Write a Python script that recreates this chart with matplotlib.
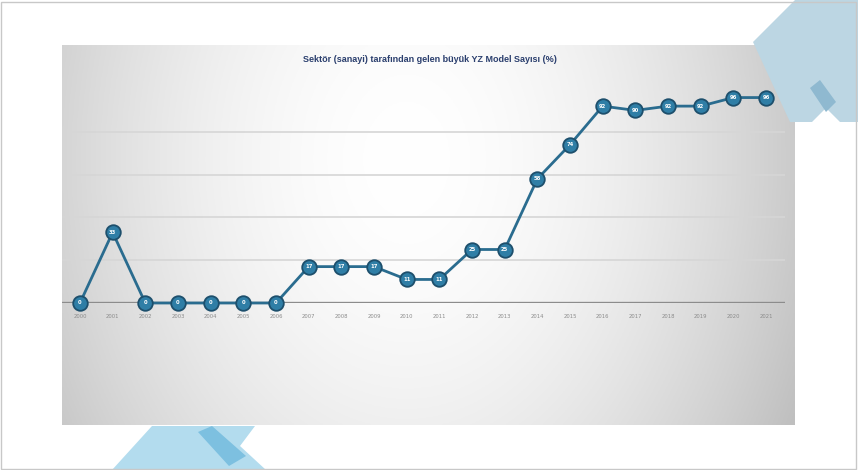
import numpy as np
import matplotlib
matplotlib.use("Agg")
import matplotlib.pyplot as plt
from matplotlib.patches import Polygon, Rectangle

# data (share of large AI models from industry, %)
years = list(range(2000, 2022))
share = [0, 33, 0, 0, 0, 0, 0, 17, 17, 17, 11, 11, 25, 25, 58, 74, 92, 90, 92, 92, 96, 96]
title = "Sektör (sanayi) tarafından gelen büyük YZ Model Sayısı (%)"
grid_levels = [20, 40, 60, 80]

W, H = 858, 470
fig = plt.figure(figsize=(W / 100, H / 100), dpi=100)
fig.patch.set_facecolor("white")


def px(x, y):
    # pixel (top-left origin) -> figure fraction
    return (x / W, 1 - y / H)


# decorative shapes behind the panel
top_right = [px(753, 42), px(795, 0), px(858, 0), px(858, 122), px(840, 122),
             px(826, 108), px(812, 122), px(790, 122)]
fig.patches.append(Polygon(top_right, closed=True, transform=fig.transFigure,
                           facecolor="#bcd6e3", edgecolor="none", zorder=0))
fig.patches.append(Polygon([px(810, 88), px(820, 80), px(836, 102), px(826, 112)],
                           closed=True, transform=fig.transFigure,
                           facecolor="#8fb9d0", edgecolor="none", zorder=0))
bottom_left = [px(112, 470), px(152, 426), px(255, 426), px(240, 446), px(266, 470)]
fig.patches.append(Polygon(bottom_left, closed=True, transform=fig.transFigure,
                           facecolor="#b3dcee", edgecolor="none", zorder=0))
fig.patches.append(Polygon([px(198, 432), px(212, 426), px(246, 456), px(229, 466)],
                           closed=True, transform=fig.transFigure,
                           facecolor="#7dc0e0", edgecolor="none", zorder=0))
fig.patches.append(Rectangle((1 / W, 1 / H), (W - 3) / W, (H - 3) / H,
                             transform=fig.transFigure, facecolor="none",
                             edgecolor="#c8c8c8", lw=1, zorder=0))

# gradient panel: grey at the sides, nearly white in the lower middle
l, t, r, b = 62, 45, 795, 425
bg = fig.add_axes([l / W, 1 - b / H, (r - l) / W, (b - t) / H])
gx, gy = np.meshgrid(np.linspace(0, 1, 300), np.linspace(0, 1, 200))
d = np.sqrt(((gx - 0.47) / 0.62) ** 2 + ((gy - 0.3) / 1.6) ** 2)
shade = 1 - 0.27 * np.clip(d, 0, 1) ** 1.8
bg.imshow(np.dstack([shade, shade, shade]), aspect="auto", extent=[0, 1, 0, 1])
bg.set_axis_off()

# line chart
ax = fig.add_axes([62 / W, 1 - 303 / H, (785 - 62) / W, 214 / H])
ax.patch.set_alpha(0)
ax.set_xlim(1999.45, 2021.58)
ax.set_ylim(0, 100)
for g in grid_levels:
    ax.axhline(g, color="#d6d6d6", lw=1.2, zorder=1)
ax.axhline(0, color="#8c8c8c", lw=2.4, zorder=2)

ax.plot(years, share, color="#2a6c8f", lw=2, zorder=3, clip_on=False,
        marker="o", markersize=10.5, markerfacecolor="#2f7ea6",
        markeredgecolor="#1d4f6c", markeredgewidth=1.3)
for yr, v in zip(years, share):
    ax.text(yr, v, str(v), ha="center", va="center", fontsize=3.8,
            color="white", fontweight="bold", zorder=4)

for yr in years:
    ax.text(yr, -5, str(yr), ha="center", va="top", fontsize=3.8,
            color="#8a8a8a")

ax.set_xticks([])
ax.set_yticks([])
for s in ax.spines.values():
    s.set_visible(False)

fig.text(430 / W, 1 - 60 / H, title, ha="center", va="center",
         fontsize=6.5, fontweight="bold", color="#2b3f6e",
         family="Liberation Sans")

fig.savefig("out.png", dpi=100)
